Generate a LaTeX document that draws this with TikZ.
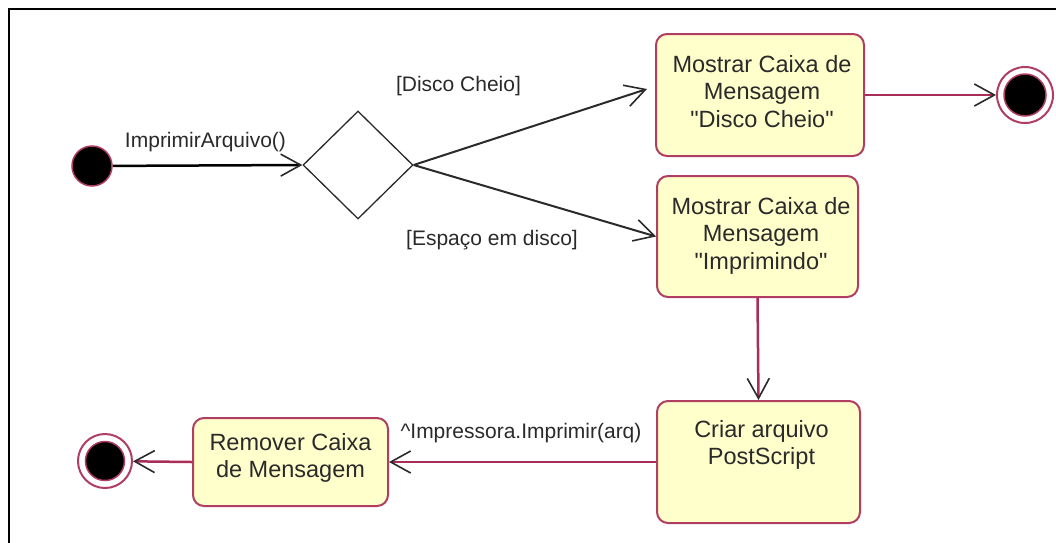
\documentclass[tikz,border=0pt]{standalone}
\usepackage{fontspec}
\setmainfont{Liberation Sans}
\usetikzlibrary{arrows.meta,shapes.geometric}
\definecolor{actfill}{HTML}{FFFFCC}
\definecolor{actline}{HTML}{B03D62}
\definecolor{flowline}{HTML}{A82D57}
\definecolor{inkgray}{HTML}{2A2A2A}
\tikzset{
  activity/.style={draw=actline, fill=actfill, line width=2pt, rounded corners=11pt, inner sep=0pt},
  acttext/.style={inner sep=0pt, align=center, anchor=north, text=inkgray,
    font=\fontsize{23.5}{27.5}\selectfont},
  guard/.style={inner sep=0pt, anchor=base, text=inkgray, font=\fontsize{21}{24}\selectfont},
  opentip/.style={-{Straight Barb[length=20pt,width=22pt,color=inkgray,line width=1.6pt]}},
  flow/.style={flowline, line width=2.5pt, opentip},
  startdot/.style={circle, fill=black, draw=actline, line width=1.5pt, minimum size=40pt, inner sep=0pt},
  endring/.style={circle, fill=white, draw=actline, line width=2pt, inner sep=0pt},
  enddot/.style={circle, fill=black, draw=actline, line width=1.5pt, inner sep=0pt},
  decision/.style={diamond, draw=inkgray, line width=1.3pt, minimum width=110pt, minimum height=108pt, inner sep=0pt}
}
\begin{document}
\begin{tikzpicture}[x=1pt, y=-1pt]
  \useasboundingbox (0,0) rectangle (1056,542);
  \fill[white] (0,0) rectangle (1056,542);
  % frame
  \draw[line width=2.5pt] (9,560) -- (9,9) -- (1070,9);

  % initial state and decision
  \node[startdot] (start) at (92,166) {};
  \node[decision] (dia) at (358,165) {};

  % activities
  \node[activity, minimum width=208pt, minimum height=122pt] (b1) at (760,95) {};
  \node[activity, minimum width=201pt, minimum height=121pt] (b2) at (757.5,236.5) {};
  \node[activity, minimum width=203pt, minimum height=122pt] (b3) at (758.5,462) {};
  \node[activity, minimum width=195pt, minimum height=88pt] (b4) at (290.5,462) {};

  \node[acttext] (t1) at (762,55) {Mostrar Caixa de\\Mensagem\\\textquotedbl Disco Cheio\textquotedbl};
  \node[acttext] (t2) at (761,197) {Mostrar Caixa de\\Mensagem\\\textquotedbl Imprimindo\textquotedbl};
  \node[acttext] (t3) at (761.5,420) {Criar arquivo\\PostScript};
  \node[acttext] (t4) at (290.5,433) {Remover Caixa\\de Mensagem};

  % final states
  \node[endring, minimum size=56pt] (end1) at (1025,95) {};
  \node[enddot, minimum size=42pt] (end1in) at (1025,95) {};
  \node[endring, minimum size=54pt] (end2) at (105,461) {};
  \node[enddot, minimum size=39pt] (end2in) at (105,461) {};

  % transitions
  \draw[black, line width=2.5pt, opentip] (start) -- (dia.west);
  \draw[inkgray, line width=2pt, opentip] (dia.east) -- ([shift={(-8,-6)}]b1.west);
  \draw[inkgray, line width=2pt, opentip] (dia.east) -- (b2.west);
  \draw[flow] (b1.east) -- (end1);
  \draw[flow] (b2.south) -- (b3.north);
  \draw[flow] (b3.west) -- (b4.east);
  \draw[flow] (b4.west) -- (end2);

  % guards and events
  \node[guard] (l1) at (205.5,147) {ImprimirArquivo()};
  \node[guard] (l2) at (458.5,91) {[Disco Cheio]};
  \node[guard] (l3) at (492,245) {[Espaço em disco]};
  \node[guard] (l4) at (521,438) {\textasciicircum Impressora.Imprimir(arq)};
\end{tikzpicture}
\end{document}
